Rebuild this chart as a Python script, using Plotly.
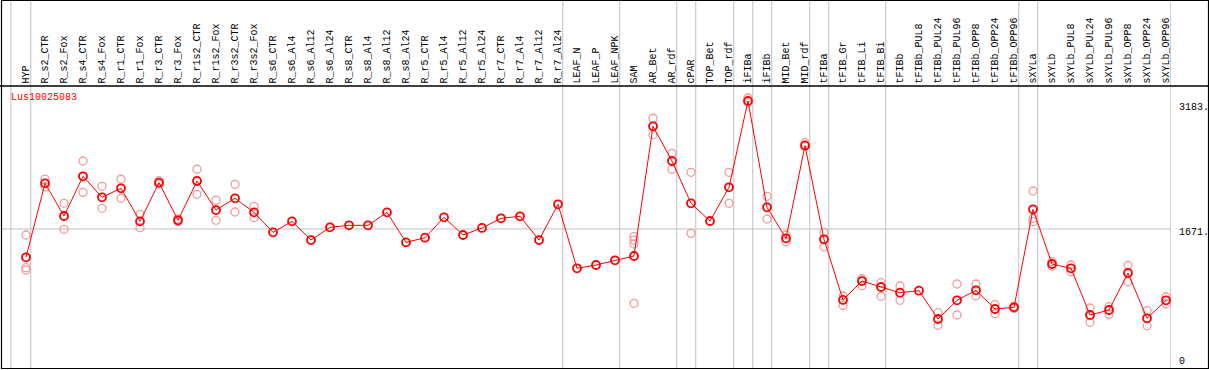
import plotly.graph_objects as go

categories = ["HYP", "R_s2_CTR", "R_s2_Fox", "R_s4_CTR", "R_s4_Fox", "R_r1_CTR", "R_r1_Fox",
              "R_r3_CTR", "R_r3_Fox", "R_r1s2_CTR", "R_r1s2_Fox", "R_r3s2_CTR", "R_r3s2_Fox",
              "R_s6_CTR", "R_s6_Al4", "R_s6_Al12", "R_s6_Al24", "R_s8_CTR", "R_s8_Al4", "R_s8_Al12",
              "R_s8_Al24", "R_r5_CTR", "R_r5_Al4", "R_r5_Al12", "R_r5_Al24", "R_r7_CTR", "R_r7_Al4",
              "R_r7_Al12", "R_r7_Al24", "LEAF_N", "LEAF_P", "LEAF_NPK", "SAM", "AR_Bet", "AR_rdf",
              "cPAR", "TOP_Bet", "TOP_rdf", "iFIBa", "iFIBb", "MID_Bet", "MID_rdf", "tFIBa",
              "tFIB_Gr", "tFIB_Li", "tFIB_Bi", "tFIBb", "tFIBb_PUL8", "tFIBb_PUL24", "tFIBb_PUL96",
              "tFIBb_OPP8", "tFIBb_OPP24", "tFIBb_OPP96", "sXYLa", "sXYLb", "sXYLb_PUL8",
              "sXYLb_PUL24", "sXYLb_PUL96", "sXYLb_OPP8", "sXYLb_OPP24", "sXYLb_OPP96"]

mean_values = [1328, 2223, 1828, 2308, 2054, 2163, 1763, 2231, 1776, 2251, 1900, 2042, 1872,
               1630, 1763, 1537, 1691, 1715, 1715, 1872, 1509, 1565, 1812, 1598, 1683, 1800,
               1824, 1537, 1969, 1195, 1235, 1292, 1344, 2913, 2493, 1981, 1767, 2175, 3220,
               1933, 1558, 2678, 1546, 812, 1041, 969, 900, 924, 582, 808, 929, 703, 723, 1909,
               1247, 1195, 630, 691, 1138, 590, 808]

rep1 = [1598, 2275, 1981, 2493, 2187, 2272, 1848, 2255, 1790, 2393, 2018, 2211, 1945,
        None, None, None, None, None, None, None, None, None, None, None, None, None,
        None, None, None, None, None, None, 1578, 3010, 2586, 2356, None, 2356, 3255,
        2066, 1598, 2715, 1630, 860, 1069, 1021, 981, None, 658, 1005, 1005, 755, 735, 2130,
        1275, 1235, 715, 731, 1231, 682, 848]
rep2 = [1203, 2180, 1667, 2114, 1921, 2042, 1686, 2215, 1760, 2090, 1776, 1876, 1807,
        None, None, None, None, None, None, None, None, None, None, None, None, None,
        None, None, None, None, None, None, 1537, 2808, 2393, 1618, None, 1981, 3200,
        1791, 1517, 2690, 1456, 747, 985, 856, 808, None, 506, 630, 864, 646, 710, 1759,
        1219, 1154, 542, 639, 1033, 501, 767]
rep3 = [1175, None, None, None, None, None, None, None, None, None, None, None, None,
        None, None, None, None, None, None, None, None, None, None, None, None, None,
        None, None, None, None, None, None, 1489, None, None, None, None, None, None,
        None, None, None, None, None, None, None, None, None, None, None, None, None, None, 1800,
        None, None, None, None, None, None, None]
rep4 = [None] * 32 + [772] + [None] * 28

gene_label = "Lus10025083"
tick_values = [3183, 1671, 0]
tick_labels = ["3183.", "1671.", "0"]
separators_after = ["HYP", "R_r7_Al24", "LEAF_NPK", "AR_rdf", "cPAR", "TOP_rdf", "iFIBa", "iFIBb",
                    "MID_rdf", "tFIBa", "tFIB_Bi", "tFIBb_OPP96", "sXYLa", "sXYLb_OPP96"]

W, H = 1209, 370
ML, MR, MT, MB = 2, 38, 86, 2
PW, PH = W - ML - MR, H - MT - MB
FONT = "Liberation Mono"

def px_x(p):
    return (p - ML) / PW

def px_y(p):
    return (H - MB - p) / PH

rx, ry = [], []
for rep in (rep1, rep2, rep3, rep4):
    for c, v in zip(categories, rep):
        if v is not None:
            rx.append(c)
            ry.append(v)

fig = go.Figure()
fig.add_trace(go.Scatter(x=rx, y=ry, mode="markers",
                         marker=dict(symbol="circle-open", size=8, color="#f29a9a",
                                     line=dict(width=1.3, color="#f29a9a")),
                         hoverinfo="skip", showlegend=False))
fig.add_trace(go.Scatter(x=categories, y=mean_values, mode="lines+markers",
                         line=dict(color="#ff0000", width=1),
                         marker=dict(symbol="circle-open", size=8, color="#ff0000",
                                     line=dict(width=1.8, color="#ff0000")),
                         showlegend=False))

shapes = []
idx = {c: i for i, c in enumerate(categories)}
sep_positions = [-0.8] + [idx[c] + 0.25 for c in separators_after]
for s in sep_positions:
    shapes.append(dict(type="line", xref="x", yref="paper", x0=s, x1=s,
                       y0=0, y1=px_y(0), line=dict(color="#c0c0c0", width=1), layer="below"))
shapes.append(dict(type="line", xref="paper", yref="y", x0=0, x1=1, y0=tick_values[1], y1=tick_values[1],
                   line=dict(color="#c0c0c0", width=1), layer="below"))
shapes.append(dict(type="line", xref="paper", yref="paper", x0=px_x(0), x1=px_x(W),
                   y0=1, y1=1, line=dict(color="black", width=1.5)))
shapes.append(dict(type="rect", xref="paper", yref="paper", x0=px_x(1.5), x1=px_x(1208.5),
                   y0=px_y(368.5), y1=px_y(0.5), line=dict(color="black", width=1.2)))

annotations = []
for c in categories:
    annotations.append(dict(x=c, xref="x", y=px_y(85.5), yref="paper", text=c, showarrow=False,
                            textangle=-90, xanchor="center", yanchor="bottom",
                            font=dict(family=FONT, size=10, color="black")))
annotations.append(dict(x=px_x(9), xref="paper", y=px_y(97.5), yref="paper", text=gene_label,
                        showarrow=False, xanchor="left", yanchor="middle",
                        font=dict(family=FONT, size=10, color="#ff0000")))
shifts = [-3.7, -3.7, 6]
for v, t, sh in zip(tick_values, tick_labels, shifts):
    annotations.append(dict(x=px_x(1177), xref="paper", y=v, yref="y", text=t, showarrow=False,
                            xanchor="left", yanchor="middle", yshift=sh,
                            font=dict(family=FONT, size=10, color="black")))

k = 0.08267
y_bottom = (367.1 - 368) / k
y_top = (367.1 - 86) / k

fig.update_layout(
    width=W, height=H,
    margin=dict(l=ML, r=MR, t=MT, b=MB, pad=0),
    paper_bgcolor="white", plot_bgcolor="white",
    xaxis=dict(type="category", categoryorder="array", categoryarray=categories,
               range=[(ML - 26) / 19, (W - MR - 26) / 19], showgrid=False, zeroline=False,
               showticklabels=False, ticks="", showline=False),
    yaxis=dict(range=[y_bottom, y_top], showgrid=False, zeroline=False, showticklabels=False,
               ticks="", showline=False),
    shapes=shapes, annotations=annotations,
)

fig.write_html("out.html", config={"displayModeBar": False},
               post_script="document.body.style.margin='0';document.body.style.padding='0';")
